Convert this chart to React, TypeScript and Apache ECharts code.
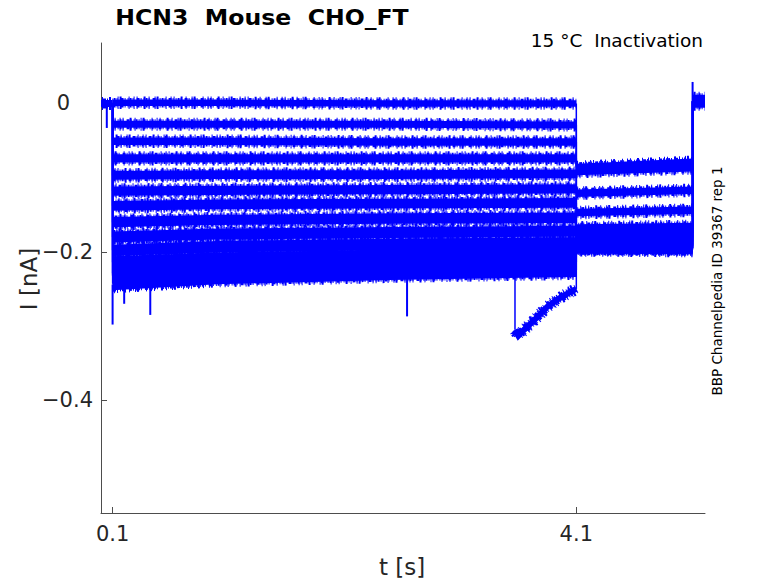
import React, { useEffect, useRef } from 'react';
import * as echarts from 'echarts';

// ---- time points of the protocol (s) ----
const T_START = 0;
const T_ON = 0.1;
const T_OFF = 4.1;
const T_TAIL_END = 5.103;
const T_END = 5.21;

// holding current before / after the protocol (nA)
const preLevel = 0.0;
const endLevel = 0.003;

// test-step current of each trace, read at testTimes (nA)
const testTimes = [0.1, 1.0, 2.5, 4.1];
const testTrace0 = [0.001, 0.001, 0.0, 0.0];
const testTrace1 = [-0.028, -0.028, -0.028, -0.029];
const testTrace2 = [-0.051, -0.051, -0.052, -0.052];
const testTrace3 = [-0.074, -0.074, -0.074, -0.074];
const testTrace4 = [-0.097, -0.096, -0.096, -0.095];
const testTrace5 = [-0.118, -0.117, -0.116, -0.115];
const testTrace6 = [-0.138, -0.136, -0.135, -0.134];
const testTrace7 = [-0.16, -0.157, -0.155, -0.154];
const testTrace8 = [-0.18, -0.176, -0.174, -0.172];
const testTrace9 = [-0.198, -0.193, -0.19, -0.188];
const testTrace10 = [-0.214, -0.209, -0.205, -0.202];
const testTrace11 = [-0.229, -0.222, -0.217, -0.214];
const testTrace12 = [-0.243, -0.235, -0.229, -0.225];
const testTraces = [
  testTrace0, testTrace1, testTrace2, testTrace3, testTrace4, testTrace5, testTrace6,
  testTrace7, testTrace8, testTrace9, testTrace10, testTrace11, testTrace12,
];

// tail-step current of each trace at start / end of the tail (nA)
const postStart = [-0.086, -0.092, -0.121, -0.147, -0.168, -0.176, -0.182, -0.187, -0.19, -0.192, -0.194, -0.195, -0.196];
const postEnd = [-0.079, -0.087, -0.117, -0.144, -0.166, -0.175, -0.181, -0.186, -0.19, -0.192, -0.194, -0.195, -0.197];

// the trace with the late downward excursion
const dipLeadTimes = [0.1, 1.0, 2.5, 3.571];
const dipLeadValues = [-0.232, -0.226, -0.222, -0.22];
const dipTimes = [3.571, 3.6, 3.65, 3.75, 3.85, 3.95, 4.05, 4.1];
const dipValues = [-0.305, -0.313, -0.305, -0.29, -0.274, -0.263, -0.254, -0.25];
const dipPostStart = -0.194;
const dipPostEnd = -0.195;

// isolated spikes: time, from, to (nA)
const spikeTimes = [0.05, 0.1, 0.2, 0.425, 2.64, 5.103];
const spikeFrom = [0.0, -0.244, -0.245, -0.243, -0.232, 0.003];
const spikeTo = [-0.033, -0.298, -0.27, -0.285, -0.287, 0.029];

// axis ticks
const xTicks = [0.1, 4.1];
const yTicks = [0, -0.2, -0.4];

const FONT = 'DejaVu Sans';
const BLUE = '#0000ff';
const INK = '#262626';
const AXIS = '#4d4d4d';

export default function App() {
  const ref = useRef<HTMLDivElement>(null);

  useEffect(() => {
    if (!ref.current) return;
    const chart = echarts.init(ref.current, undefined, { renderer: 'svg' });

    const series: any[] = [];
    const mk = (data: number[][], width: number, z: number, dash?: number[], offset = 0) => ({
      type: 'line',
      data,
      symbol: 'none',
      showSymbol: false,
      silent: true,
      z,
      lineStyle: {
        color: BLUE,
        width,
        cap: 'butt',
        join: 'miter',
        type: dash || 'solid',
        dashOffset: offset,
      },
    });
    let bandNo = 0;
    const addBand = (pts: number[][], w: number) => {
      bandNo += 1;
      // ragged noise edges drawn as dashed wider strokes around a solid core
      series.push(mk(pts, w + 6, 1, [1, 4, 1, 2, 1, 6, 2, 3, 1, 5, 1, 1, 2, 7], bandNo * 7));
      series.push(mk(pts, w + 3, 1, [2, 1, 1, 3, 3, 1, 1, 2, 1, 1], bandNo * 5));
      series.push(mk(pts, w, 2));
    };
    const addThin = (pts: number[][], w = 1.5) => series.push(mk(pts, w, 3));

    // holding segments
    addBand([[T_START, preLevel], [T_ON, preLevel]], 7);
    addBand([[T_TAIL_END, endLevel], [T_END, endLevel]], 13);

    testTraces.forEach((lv, i) => {
      const w = 6.5 + i * 0.55;
      addBand(testTimes.map((t, k) => [t, lv[k]]), w);
      addBand([[T_OFF, postStart[i]], [T_TAIL_END, postEnd[i]]], 7 + i * 0.2);
      addThin([[T_ON, preLevel], [T_ON, lv[0]]]);
      addThin([[T_OFF, lv[lv.length - 1]], [T_OFF, postStart[i]]]);
      addThin([[T_TAIL_END, postEnd[i]], [T_TAIL_END, endLevel]]);
    });

    // dip trace
    addBand(dipLeadTimes.map((t, k) => [t, dipLeadValues[k]]), 10);
    addBand(dipTimes.map((t, k) => [t, dipValues[k]]), 6);
    addBand([[T_OFF, dipPostStart], [T_TAIL_END, dipPostEnd]], 8);
    addThin([[T_ON, preLevel], [T_ON, dipLeadValues[0]]]);
    addThin([[dipTimes[0], dipLeadValues[dipLeadValues.length - 1]], [dipTimes[0], dipValues[0]]]);
    addThin([[T_OFF, dipValues[dipValues.length - 1]], [T_OFF, dipPostStart]]);
    addThin([[T_TAIL_END, dipPostEnd], [T_TAIL_END, endLevel]]);

    spikeTimes.forEach((t, k) => addThin([[t, spikeFrom[k]], [t, spikeTo[k]]], 2));

    chart.setOption({
      animation: false,
      grid: { left: 101, top: 43, right: 73, bottom: 70, containLabel: false },
      xAxis: {
        type: 'value',
        min: 0,
        max: T_END,
        axisLine: { show: true, onZero: false, lineStyle: { color: AXIS, width: 1 } },
        axisTick: { show: true, inside: true, length: 6, customValues: xTicks, lineStyle: { color: AXIS, width: 1 } },
        axisLabel: {
          customValues: xTicks,
          formatter: (v: number) => v.toFixed(1),
          fontSize: 21,
          fontFamily: FONT,
          color: INK,
          margin: 10,
        },
        splitLine: { show: false },
      },
      yAxis: {
        type: 'value',
        min: -0.552,
        max: 0.0815,
        axisLine: { show: true, onZero: false, lineStyle: { color: AXIS, width: 1 } },
        axisTick: { show: true, inside: true, length: 6, customValues: yTicks, lineStyle: { color: AXIS, width: 1 } },
        axisLabel: {
          customValues: yTicks,
          formatter: (v: number) => (Math.abs(v) < 1e-9 ? '{z|0}' : '\u2212' + Math.abs(v).toFixed(1)),
          fontSize: 21,
          fontFamily: FONT,
          color: INK,
          margin: 8,
          rich: { z: { fontSize: 21, fontFamily: FONT, color: INK, padding: [0, 23, 0, 0] } },
        },
        splitLine: { show: false },
      },
      series,
      graphic: [
        {
          type: 'text',
          x: 262,
          y: 18,
          scaleX: 1.15,
          style: {
            text: 'HCN3  Mouse  CHO_FT',
            font: `bold 20.5px "${FONT}"`,
            fill: '#000',
            align: 'center',
            verticalAlign: 'middle',
          },
        },
        {
          type: 'text',
          x: 703,
          y: 40,
          style: {
            text: '15 °C  Inactivation',
            font: `18.5px "${FONT}"`,
            fill: '#000',
            align: 'right',
            verticalAlign: 'middle',
          },
        },
        {
          type: 'text',
          x: 716.5,
          y: 281,
          rotation: Math.PI / 2,
          style: {
            text: 'BBP Channelpedia ID 39367 rep 1',
            font: `13.5px "${FONT}"`,
            fill: '#000',
            align: 'center',
            verticalAlign: 'middle',
          },
        },
        {
          type: 'text',
          x: 29,
          y: 279,
          rotation: Math.PI / 2,
          style: {
            text: 'I [nA]',
            font: `23px "${FONT}"`,
            fill: INK,
            align: 'center',
            verticalAlign: 'middle',
          },
        },
        {
          type: 'text',
          x: 402,
          y: 567,
          style: {
            text: 't [s]',
            font: `23px "${FONT}"`,
            fill: INK,
            align: 'center',
            verticalAlign: 'middle',
          },
        },
      ],
    });

    return () => chart.dispose();
  }, []);

  return (
    <div
      ref={ref}
      style={{ position: 'absolute', left: 0, top: 0, width: 778, height: 583, background: '#fff' }}
    />
  );
}
